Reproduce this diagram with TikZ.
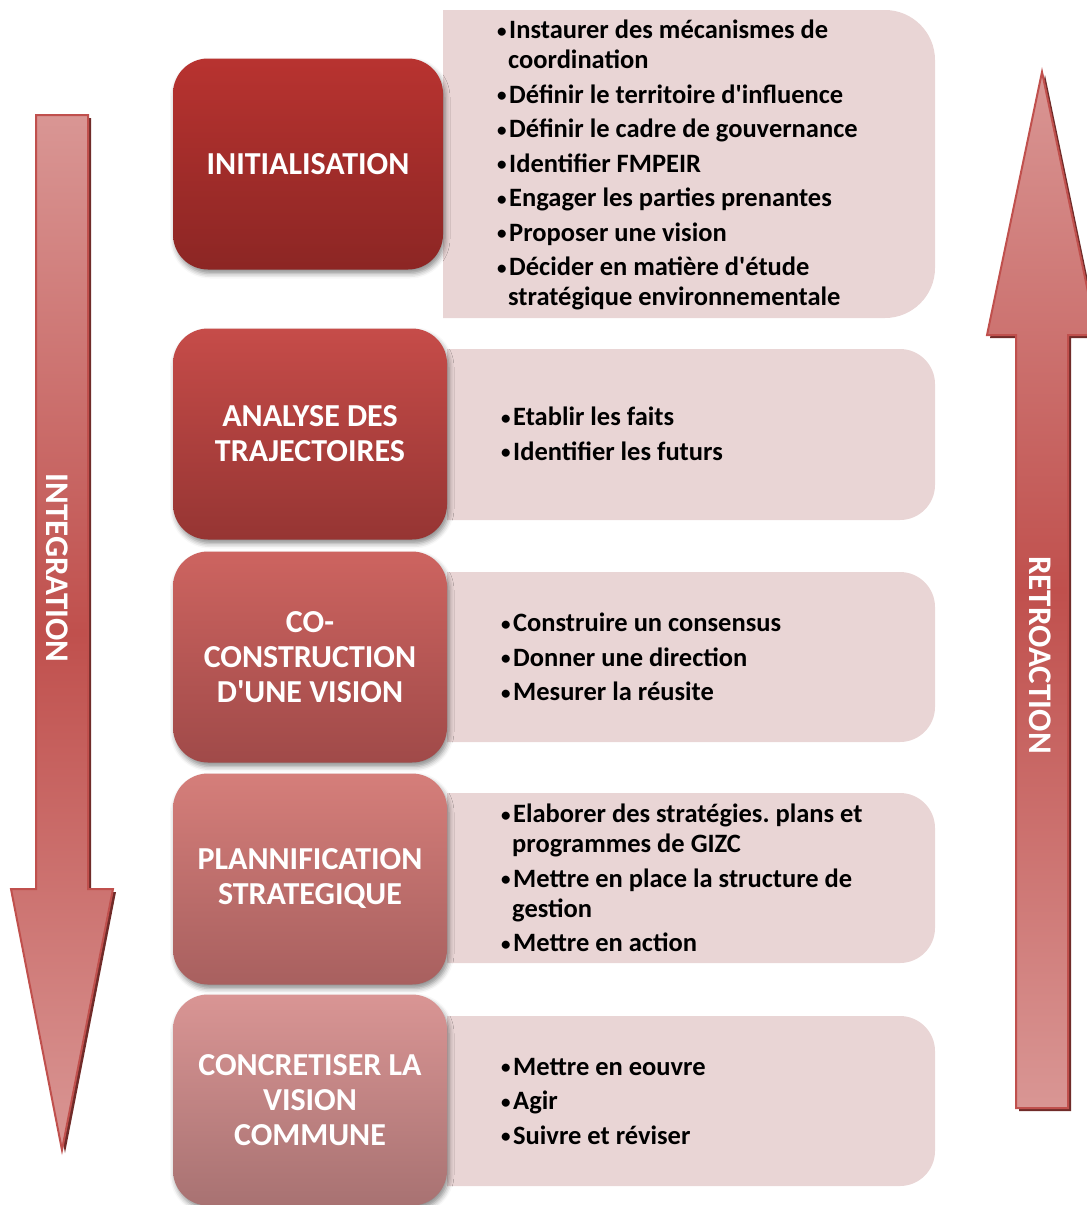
\documentclass[tikz,border=0pt]{standalone}
\usepackage{fontspec}
\setmainfont{Carlito}
\usepackage{tikz}
\usetikzlibrary{shadows.blur}
\frenchspacing
\definecolor{rouge1}{RGB}{184, 51, 48}
\definecolor{rouge1b}{RGB}{140, 38, 36}
\definecolor{rouge2}{RGB}{198, 76, 73}
\definecolor{rouge2b}{RGB}{150, 53, 51}
\definecolor{rouge3}{RGB}{205, 100, 96}
\definecolor{rouge3b}{RGB}{160, 74, 73}
\definecolor{rouge4}{RGB}{213, 126, 122}
\definecolor{rouge4b}{RGB}{168, 96, 95}
\definecolor{rouge5}{RGB}{217, 149, 148}
\definecolor{rouge5b}{RGB}{168, 114, 114}
\definecolor{rose}{RGB}{233, 213, 213}
\definecolor{fpale}{RGB}{217, 150, 148}
\definecolor{fvive}{RGB}{192, 80, 77}
\definecolor{fombre}{RGB}{112, 43, 41}
\tikzset{etape/.style = {rectangle, rounded corners = 35pt, minimum width = 270pt,
    minimum height = 211pt, align = center, text = white, inner sep = 0,
    font = \fontsize{32}{35}\selectfont\bfseries,
    blur shadow = {shadow xshift = 2pt, shadow yshift = -4pt,
      shadow blur radius = 5pt, shadow opacity = 45}}}
\tikzset{puces/.style = {anchor = west, align = left, inner sep = 0,
    font = \fontsize{26.5}{30}\selectfont\bfseries}}
\tikzset{fleche/.style = {draw = fvive, line width = 2pt, line join = miter,
    top color = fpale, bottom color = fpale, middle color = fvive}}
\tikzset{sens/.style = {rotate = -90, text = white, inner sep = 0,
    font = \fontsize{33}{36}\selectfont\bfseries}}
% small bullet in front of each task
\newcommand\puce{\makebox[12pt][l]{\raisebox{1.5pt}{\fontsize{19}{19}\selectfont\textbullet}}}
\newcommand\ap{\textquotesingle}
% pink band, square on the left, rounded on the right: left x, top y, bottom y, radius
\newcommand\bande[4]{%
  \fill [rose] (#1, #2) -- ({935 - #4}, #2)
    .. controls ({935 - 0.45*#4}, #2) and (935, {#2 + 0.45*#4}) .. (935, {#2 + #4})
    -- (935, {#3 - #4})
    .. controls (935, {#3 - 0.45*#4}) and ({935 - 0.45*#4}, #3) .. ({935 - #4}, #3)
    -- (#1, #3) -- cycle;}

\begin{document}
\begin{tikzpicture}[x = 1pt, y = -1pt]
    \useasboundingbox (0, 0) rectangle (1087, 1205);

    % down arrow
    \fill [fombre] (39, 118) -- (91, 118) -- (91, 892) -- (116, 892) -- (65, 1153)
      -- (14, 892) -- (39, 892) -- cycle;
    \draw [fleche] (36, 115) -- (88, 115) -- (88, 889) -- (113, 889) -- (62, 1150)
      -- (11, 889) -- (36, 889) -- cycle;
    \node [sens] (integ) at (57, 568) {INTEGRATION};

    % up arrow
    \fill [fombre] (1045, 75) -- (1100, 338) -- (1071, 338) -- (1071, 1111)
      -- (1019, 1111) -- (1019, 338) -- (990, 338) -- cycle;
    \draw [fleche] (1042, 72) -- (1097, 335) -- (1068, 335) -- (1068, 1108)
      -- (1016, 1108) -- (1016, 335) -- (987, 335) -- cycle;
    \node [sens] (retro) at (1040, 655) {RETROACTION};

    % bands with the tasks
    \bande{443}{10}{318}{50}
    \bande{447}{349}{520}{35}
    \bande{447}{572}{742}{35}
    \bande{447}{793}{963}{35}
    \bande{447}{1016}{1186}{35}

    \node [puces] (l1) at (497, 165) {%
      \puce Instaurer des mécanismes de\\
      \hspace*{11pt}coordination\\[4.5pt]
      \puce Définir le territoire d\ap influence\\[4.5pt]
      \puce Définir le cadre de gouvernance\\[4.5pt]
      \puce Identifier FMPEIR\\[4.5pt]
      \puce Engager les parties prenantes\\[4.5pt]
      \puce Proposer une vision\\[4.5pt]
      \puce Décider en matière d\ap étude\\
      \hspace*{11pt}stratégique environnementale};
    \node [puces] (l2) at (501, 434) {%
      \puce Etablir les faits\\[4.5pt]
      \puce Identifier les futurs};
    \node [puces] (l3) at (501, 657) {%
      \puce Construire un consensus\\[4.5pt]
      \puce Donner une direction\\[4.5pt]
      \puce Mesurer la réusite};
    \node [puces] (l4) at (501, 878) {%
      \puce Elaborer des stratégies. plans et\\
      \hspace*{11pt}programmes de GIZC\\[4.5pt]
      \puce Mettre en place la structure de\\
      \hspace*{11pt}gestion\\[4.5pt]
      \puce Mettre en action};
    \node [puces] (l5) at (501, 1101) {%
      \puce Mettre en eouvre\\[4.5pt]
      \puce Agir\\[4.5pt]
      \puce Suivre et réviser};

    % steps
    \node [etape, top color = rouge1, bottom color = rouge1b] (init) at (308, 164)
      {INITIALISATION};
    \node [etape, minimum width = 274pt, top color = rouge2, bottom color = rouge2b]
      (analyse) at (310, 434) {ANALYSE DES\\TRAJECTOIRES};
    \node [etape, minimum width = 274pt, top color = rouge3, bottom color = rouge3b]
      (vision) at (310, 657) {CO-\\CONSTRUCTION\\D\ap UNE VISION};
    \node [etape, minimum width = 274pt, top color = rouge4, bottom color = rouge4b]
      (plan) at (310, 879) {PLANNIFICATION\\STRATEGIQUE};
    \node [etape, minimum width = 274pt, top color = rouge5, bottom color = rouge5b]
      (concret) at (310, 1100) {CONCRETISER LA\\VISION\\COMMUNE};
  \end{tikzpicture}
\end{document}
